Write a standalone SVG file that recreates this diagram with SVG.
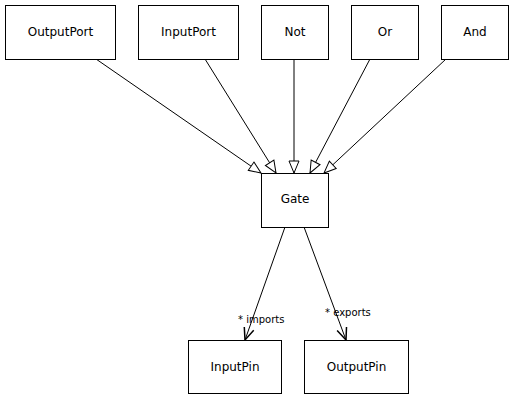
<svg xmlns="http://www.w3.org/2000/svg" width="514" height="400" viewBox="0 0 514 400">
<style>
.box{fill:#fff;stroke:#000;stroke-width:1}
.t{font-family:"DejaVu Sans",sans-serif;font-size:12px;text-anchor:middle;fill:#000}
.l{font-family:"DejaVu Sans",sans-serif;font-size:10px;fill:#000}
.e{stroke:#000;stroke-width:1;fill:none}
</style>
<defs>
<marker id="tri" viewBox="0 0 14 12" refX="13" refY="6" markerWidth="14" markerHeight="12" markerUnits="userSpaceOnUse" orient="auto">
<path d="M1,1 L13,6 L1,11 Z" fill="#fff" stroke="#000" stroke-width="1"/>
</marker>
<marker id="open" viewBox="0 0 14 12" refX="13" refY="6" markerWidth="14" markerHeight="12" markerUnits="userSpaceOnUse" orient="auto">
<path d="M1,1 L13,6 L1,11" fill="none" stroke="#000" stroke-width="1.5"/>
</marker>
</defs>
<rect width="514" height="400" fill="#fff"/>
<g id="connectors">
<line class="e" x1="96" y1="59" x2="261" y2="173" marker-end="url(#tri)"/>
<line class="e" x1="205" y1="59" x2="276" y2="173" marker-end="url(#tri)"/>
<line class="e" x1="294" y1="59" x2="294" y2="173" marker-end="url(#tri)"/>
<line class="e" x1="370" y1="59" x2="310" y2="173" marker-end="url(#tri)"/>
<line class="e" x1="446" y1="59" x2="324" y2="173" marker-end="url(#tri)"/>
<line class="e" x1="285" y1="227" x2="245" y2="340" marker-end="url(#open)"/>
<line class="e" x1="304" y1="227" x2="346" y2="340" marker-end="url(#open)"/>
<text class="l" x="238" y="323">* imports</text>
<text class="l" x="325" y="316">* exports</text>
</g>
<g id="OutputPort"><rect class="box" x="5.5" y="5.5" width="110" height="54"/><text class="t" x="60.5" y="36">OutputPort</text></g>
<g id="InputPort"><rect class="box" x="138.5" y="5.5" width="100" height="54"/><text class="t" x="188.5" y="36">InputPort</text></g>
<g id="Not"><rect class="box" x="261.5" y="5.5" width="67" height="54"/><text class="t" x="295" y="36">Not</text></g>
<g id="Or"><rect class="box" x="351.5" y="5.5" width="67" height="54"/><text class="t" x="385" y="36">Or</text></g>
<g id="And"><rect class="box" x="441.5" y="5.5" width="67" height="54"/><text class="t" x="475" y="36">And</text></g>
<g id="Gate"><rect class="box" x="261.5" y="173.5" width="67" height="54"/><text class="t" x="295" y="203">Gate</text></g>
<g id="InputPin"><rect class="box" x="188.5" y="340.5" width="93" height="53"/><text class="t" x="235" y="371">InputPin</text></g>
<g id="OutputPin"><rect class="box" x="304.5" y="340.5" width="104" height="53"/><text class="t" x="356.5" y="371">OutputPin</text></g>
</svg>
